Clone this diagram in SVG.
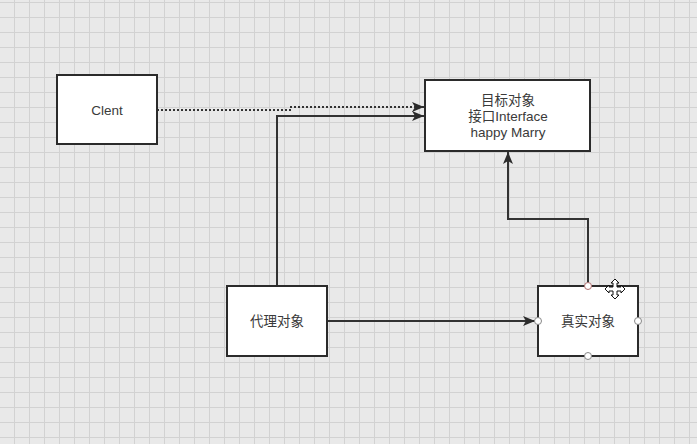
<svg xmlns="http://www.w3.org/2000/svg" width="697" height="444" viewBox="0 0 697 444">
<style>
.node rect{fill:#ffffff;stroke:#2b2b2b;stroke-width:2}
.lbl{font-family:"Liberation Sans","Noto Sans CJK SC",sans-serif;font-size:13.5px;fill:#3a3a3a;text-anchor:middle}
.edge{fill:none;stroke:#333333;stroke-width:2}
.dot{stroke-dasharray:2 2}
.port{fill:#ffffff;stroke:#888888;stroke-width:1}
</style>
<defs>
<pattern id="grid" x="14" y="2" width="15" height="15" patternUnits="userSpaceOnUse">
<path d="M0.5 0V15M0 0.5H15" stroke="#d2d2d2" stroke-width="1" fill="none"/>
</pattern>
<marker id="arr" viewBox="0 0 12 10" refX="12" refY="5" markerWidth="12" markerHeight="10" markerUnits="userSpaceOnUse" orient="auto">
<path d="M0 0L12 5L0 10L3 5Z" fill="#2b2b2b"/>
</marker>
</defs>
<rect width="697" height="444" fill="#e9e9e9"/>
<rect width="697" height="444" fill="url(#grid)"/>
<g id="connectors">
<path class="edge dot" d="M157 110H290V107H424" marker-end="url(#arr)"/>
<path class="edge" d="M277 286V116H424" marker-end="url(#arr)"/>
<path class="edge" d="M327 321H535" marker-end="url(#arr)"/>
<path class="edge" d="M588 286V219H508V152" marker-end="url(#arr)"/>
</g>
<g id="client" class="node">
<rect x="57" y="75" width="100" height="69"/>
<text class="lbl" x="107" y="114.5">Clent</text>
</g>
<g id="target" class="node">
<rect x="425" y="80" width="165" height="71"/>
<text class="lbl" x="508" y="105">目标对象</text>
<text class="lbl" x="508" y="121">接口Interface</text>
<text class="lbl" x="508" y="137">happy Marry</text>
</g>
<g id="proxy" class="node">
<rect x="227" y="286" width="100" height="70"/>
<text class="lbl" x="277" y="325.5">代理对象</text>
</g>
<g id="real" class="node">
<rect x="538" y="286" width="100" height="70"/>
<text class="lbl" x="588" y="325.5">真实对象</text>
<circle class="port" cx="538" cy="321" r="3.5"/>
<circle class="port" cx="638" cy="321" r="3.5"/>
<circle class="port" cx="588" cy="286" r="3.5" style="stroke:#b07070"/>
<circle class="port" cx="588" cy="356" r="3.5"/>
</g>
<g id="cursor">
<path d="M615 279L619 283H617V287H621V285L625 289L621 293V291H617V295H619L615 299L611 295H613V291H609V293L605 289L609 285V287H613V283H611Z" fill="#ffffff" stroke="#111111" stroke-width="1"/>
</g>
</svg>
